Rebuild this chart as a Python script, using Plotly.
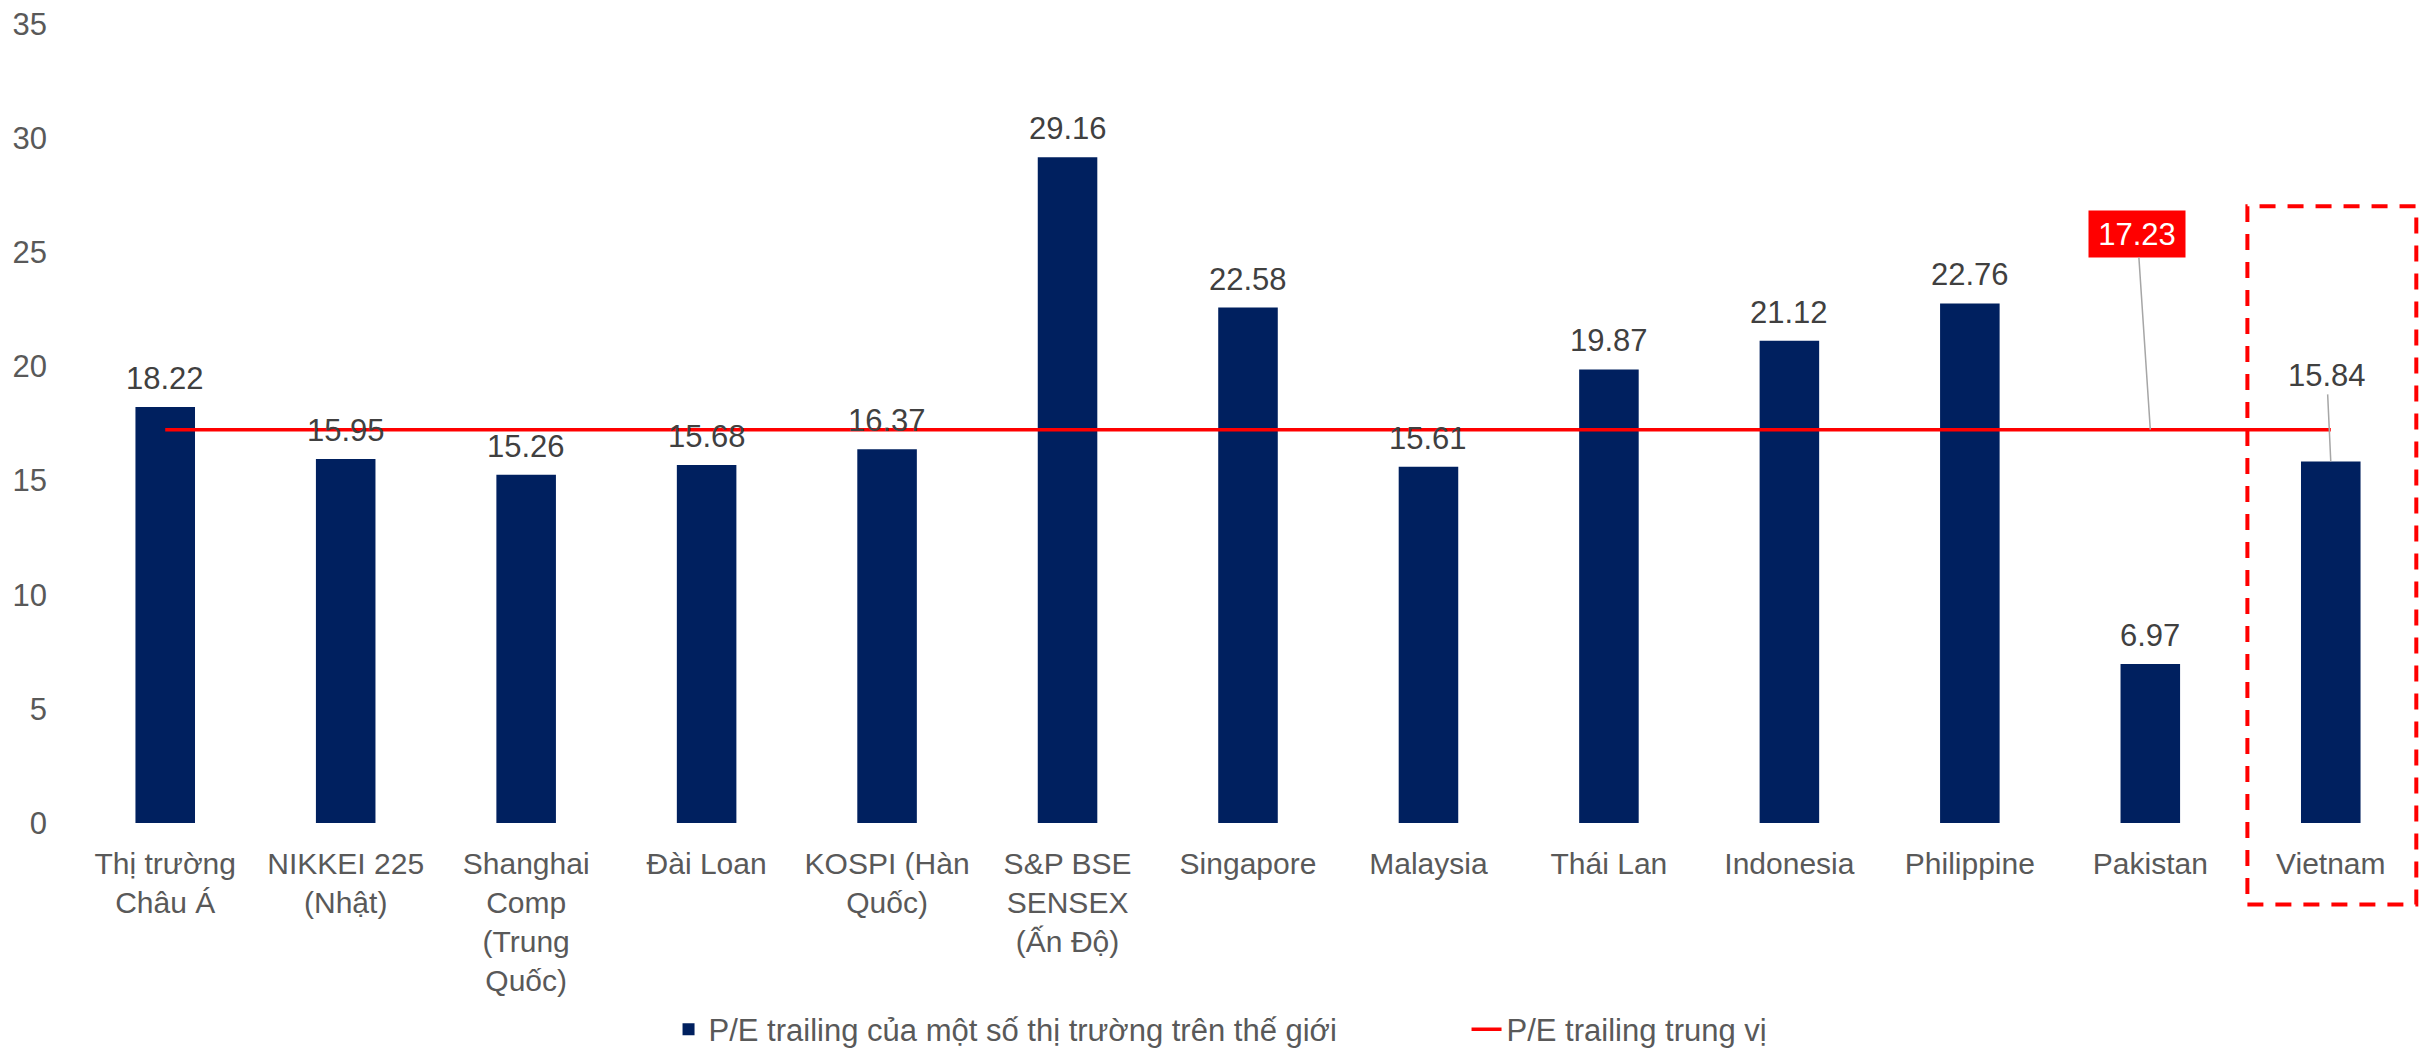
import plotly.graph_objects as go

categories = ["Thị trường<br>Châu Á", "NIKKEI 225<br>(Nhật)", "Shanghai<br>Comp<br>(Trung<br>Quốc)",
              "Đài Loan", "KOSPI (Hàn<br>Quốc)", "S&P BSE<br>SENSEX<br>(Ấn Độ)", "Singapore",
              "Malaysia", "Thái Lan", "Indonesia", "Philippine", "Pakistan", "Vietnam"]
pe_values = [18.22, 15.95, 15.26, 15.68, 16.37, 29.16, 22.58, 15.61, 19.87, 21.12, 22.76, 6.97, 15.84]
median_pe = 17.23
bar_name = "P/E trailing của một số thị trường trên thế giới"
line_name = "P/E trailing trung vị"
y_ticks = [0, 5, 10, 15, 20, 25, 30, 35]

FONT = "Liberation Sans, Arial, sans-serif"
NAVY = "#00205F"
RED = "#FF0000"
LABEL_GRAY = "#404040"

fig = go.Figure()
fig.add_trace(go.Bar(
    x=categories, y=pe_values, name=bar_name,
    marker=dict(color=NAVY, line=dict(width=0)),
))
fig.add_trace(go.Scatter(
    x=categories, y=[median_pe] * len(categories), name=line_name,
    mode="lines", line=dict(color=RED, width=3.5),
))

# Value labels above bars (all but Vietnam, which gets a leader line)
for cat, val in zip(categories[:-1], pe_values[:-1]):
    fig.add_annotation(
        x=cat, y=val, text=f"{val:.2f}", showarrow=False,
        yanchor="bottom", yshift=9,
        font=dict(family=FONT, size=31, color=LABEL_GRAY),
    )

# Vietnam label with leader line
fig.add_annotation(
    x=categories[-1], y=pe_values[-1], text=f"{pe_values[-1]:.2f}",
    showarrow=True, arrowhead=0, arrowwidth=1.5, arrowcolor="#A6A6A6",
    ax=-4, ay=-86, font=dict(family=FONT, size=31, color=LABEL_GRAY),
)
# Median label box
fig.add_annotation(
    x=categories[-2], y=median_pe, text=f"{median_pe:.2f}",
    showarrow=True, arrowhead=0, arrowwidth=1.5, arrowcolor="#A6A6A6",
    ax=-13, ay=-196, bgcolor=RED, width=96, height=46, borderpad=0,
    font=dict(family=FONT, size=31, color="white"),
)
# Dashed highlight box around Vietnam
fig.add_shape(
    type="rect", xref="x domain", yref="y domain",
    x0=0.926, x1=0.998, y0=-0.102, y1=0.772,
    line=dict(color=RED, width=4, dash="16px,12px"), fillcolor="rgba(0,0,0,0)",
    layer="above",
)

fig.update_layout(
    width=2427, height=1050,
    margin=dict(l=67, r=14, t=16, b=235),
    paper_bgcolor="white", plot_bgcolor="white",
    bargap=0.67,
    font=dict(family=FONT, size=31, color="#595959"),
    showlegend=True,
    legend=dict(orientation="h", xref="paper", x=0.253, xanchor="left",
                yref="container", y=0.027, yanchor="middle",
                entrywidth=753, entrywidthmode="pixels",
                font=dict(family=FONT, size=31, color="#595959")),
)
fig.update_xaxes(showline=False, showgrid=False, ticks="", tickfont=dict(size=30, color="#595959"),
                 ticklabelstandoff=20, automargin=False)
fig.update_yaxes(range=[0, 35], tickvals=y_ticks, showgrid=False, showline=False, zeroline=False,
                 ticks="", tickfont=dict(size=31, color="#595959"), ticklabelstandoff=27,
                 ticklabeloverflow="allow", automargin=False)

fig.write_html("out.html")
